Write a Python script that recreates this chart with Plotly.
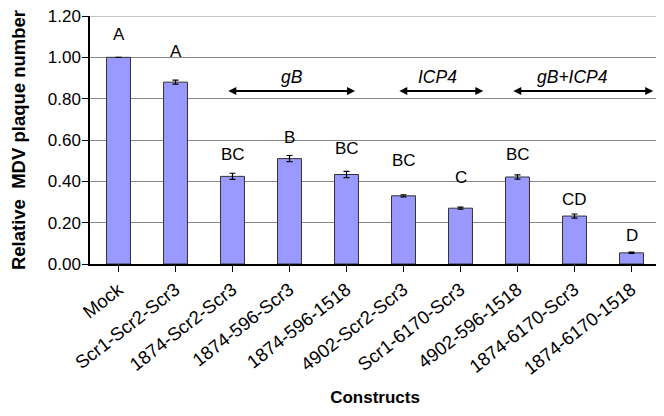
import plotly.graph_objects as go

categories = ["Mock", "Scr1-Scr2-Scr3", "1874-Scr2-Scr3", "1874-596-Scr3", "1874-596-1518",
              "4902-Scr2-Scr3", "Scr1-6170-Scr3", "4902-596-1518", "1874-6170-Scr3", "1874-6170-1518"]
values = [1.00, 0.88, 0.424, 0.51, 0.433, 0.33, 0.27, 0.421, 0.232, 0.054]
errors = [0.0, 0.01, 0.015, 0.015, 0.015, 0.005, 0.005, 0.01, 0.01, 0.003]
letters = ["A", "A", "BC", "B", "BC", "BC", "C", "BC", "CD", "D"]
letter_y = [1.11, 1.03, 0.53, 0.61, 0.56, 0.50, 0.42, 0.53, 0.31, 0.14]
y_ticks = [0, 0.2, 0.4, 0.6, 0.8, 1.0, 1.2]

groups = ["gB", "ICP4", "gB+ICP4"]
group_start = [1.90, 4.90, 6.90]
group_end = [4.15, 6.40, 9.38]
group_label_x = [3.04, 5.6, 7.97]
arrow_y = 0.837
group_label_y = 0.905

font_family = "Liberation Sans, Arial, sans-serif"

fig = go.Figure()
fig.add_trace(go.Bar(
    x=list(range(len(categories))), y=values,
    marker=dict(color="#9999FF", line=dict(color="#333333", width=1)),
    width=0.42,
    error_y=dict(type="data", array=errors, visible=True, color="#000000", thickness=1.2, width=3),
))

annotations = []
for i, (t, ly) in enumerate(zip(letters, letter_y)):
    annotations.append(dict(x=i, y=ly, text=t, showarrow=False, xref="x", yref="y",
                            font=dict(size=17, color="#000", family=font_family)))
for g, s, e, lx in zip(groups, group_start, group_end, group_label_x):
    annotations.append(dict(x=e, y=arrow_y, ax=s, ay=arrow_y, xref="x", yref="y",
                            axref="x", ayref="y", text="", showarrow=True,
                            arrowhead=2, arrowside="end+start", arrowsize=0.8, arrowwidth=2,
                            arrowcolor="#000"))
    annotations.append(dict(x=lx, y=group_label_y, text="<i>" + g + "</i>", showarrow=False,
                            xref="x", yref="y", font=dict(size=17.5, color="#000", family=font_family)))

# top gridline (same style as the other gridlines) at the highest tick
shapes = [dict(type="line", xref="paper", yref="y", x0=0, x1=1,
               y0=y_ticks[-1], y1=y_ticks[-1], line=dict(color="#888888", width=1), layer="below")]

fig.update_layout(
    width=664, height=416,
    margin=dict(l=82, r=12, t=8, b=160),
    paper_bgcolor="white", plot_bgcolor="white",
    showlegend=False,
    font=dict(family=font_family, color="#000"),
    annotations=annotations,
    shapes=shapes,
    xaxis=dict(
        tickmode="array", tickvals=list(range(len(categories))), ticktext=categories,
        tickangle=-38, tickfont=dict(size=18.5), range=[-0.5, 9.5],
        showline=True, linecolor="#000", linewidth=1.5,
        ticks="outside", ticklen=6, tickcolor="#000", tickson="boundaries",
        showgrid=False, automargin=False,
        title=dict(text="<b>Constructs</b>", font=dict(size=17), standoff=13),
    ),
    yaxis=dict(
        range=[0, 1.2], tickmode="array", tickvals=y_ticks,
        ticktext=["%.2f" % v for v in y_ticks], tickfont=dict(size=17),
        ticklabeloverflow="allow", ticklabelstandoff=-2,
        showline=True, linecolor="#000", linewidth=1.5,
        ticks="outside", ticklen=6, tickcolor="#000",
        showgrid=True, gridcolor="#888888", gridwidth=1,
        zeroline=False, automargin=False,
        title=dict(text="<b>Relative  MDV plaque number</b>", font=dict(size=18.5), standoff=19),
    ),
)

fig.write_html("out.html")
